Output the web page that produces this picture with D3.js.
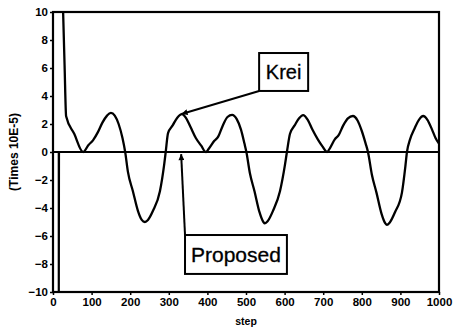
<!DOCTYPE html>
<html>
<head>
<meta charset="utf-8">
<script src="https://cdn.jsdelivr.net/npm/d3@7"></script>
<style>
  html, body { margin: 0; padding: 0; background: #fff; }
  svg { display: block; }
  text { font-family: "Liberation Sans", Arial, Helvetica, sans-serif; fill: #000; }
</style>
</head>
<body>
<svg id="chart" width="456" height="328"></svg>
<script>
// ---- data ----
const kreiSteps = [26, 30, 34, 55, 78, 92, 104, 116, 128, 140, 150, 160, 170, 180, 187,
  194, 207, 220, 230, 238, 246, 259, 277, 288, 292, 298, 310, 322, 334, 344, 356, 370, 384, 396,
  404, 418, 428, 440, 452, 464, 476, 487, 496, 501, 510, 522, 535, 545, 549, 556, 570, 588, 601,
  606, 614, 626, 637, 648, 660, 672, 686, 698, 710, 718, 730, 740, 752, 764, 777, 789, 800, 810,
  816, 826, 838, 851, 861, 865, 872, 886, 904, 913, 917, 925, 937, 948, 959, 970, 982, 991, 1000];
const kreiValues = [10.2, 6.2, 2.55, 1.3, 0, 0.5, 0.85, 1.4, 2.1, 2.6, 2.8, 2.6, 2.0, 1.0, 0,
  -1.4, -2.8, -4.2, -4.85, -5.0, -4.85, -4.2, -2.8, -0.9, 0, 1.35, 1.9, 2.45, 2.7, 2.45, 1.8, 1.0, 0.45, 0,
  0.25, 0.8, 1.1, 1.9, 2.5, 2.65, 2.35, 1.6, 0.6, 0, -1.5, -2.8, -4.3, -5.0, -5.1, -4.95, -4.2, -2.8, -0.9,
  0, 1.3, 1.9, 2.4, 2.64, 2.3, 1.6, 0.9, 0.4, 0, 0.3, 0.9, 1.2, 1.9, 2.4, 2.57, 2.25, 1.5, 0.6,
  0, -1.6, -2.9, -4.4, -5.1, -5.2, -5.05, -4.3, -2.9, -1.0, 0, 0.9, 1.7, 2.3, 2.57, 2.3, 1.6, 1.0, 0.6];

const proposedSteps = [0, 15, 15, 15.5, 1000];
const proposedValues = [0, 0, -10, 0, 0];

const xTicks = [0, 100, 200, 300, 400, 500, 600, 700, 800, 900, 1000];
const yTicks = [-10, -8, -6, -4, -2, 0, 2, 4, 6, 8, 10];
const xLabel = "step";
const yLabel = "(Times 10E-5)";

// ---- layout ----
const W = 456, H = 328;
const m = { left: 53, top: 12, right: 17, bottom: 36 };
const iw = W - m.left - m.right, ih = H - m.top - m.bottom;

const svg = d3.select("#chart");
const x = d3.scaleLinear().domain([0, 1000]).range([m.left, m.left + iw]);
const y = d3.scaleLinear().domain([-10, 10]).range([m.top + ih, m.top]);

svg.append("defs").append("clipPath").attr("id", "clip")
  .append("rect").attr("x", m.left).attr("y", m.top).attr("width", iw).attr("height", ih);

svg.append("defs").append("marker")
  .attr("id", "arrow").attr("viewBox", "0 0 10 10").attr("refX", 10).attr("refY", 5)
  .attr("markerWidth", 9).attr("markerHeight", 6).attr("markerUnits", "userSpaceOnUse")
  .attr("orient", "auto")
  .append("path").attr("d", "M0,0 L10,5 L0,10 Z").attr("fill", "#000");

// axes
const xAxis = d3.axisBottom(x).tickValues(xTicks).tickSize(3).tickPadding(3).tickFormat(d3.format("d"));
const yAxis = d3.axisLeft(y).tickValues(yTicks).tickSize(3).tickPadding(2).tickFormat(d3.format("d"));

const gx = svg.append("g").attr("transform", `translate(0,${m.top + ih})`).call(xAxis);
const gy = svg.append("g").attr("transform", `translate(${m.left},0)`).call(yAxis);
[gx, gy].forEach(g => {
  g.select(".domain").remove();
  g.selectAll(".tick line").attr("stroke", "#000").attr("stroke-width", 1.5);
  g.selectAll(".tick text").attr("font-size", 11.5).attr("font-weight", "bold")
    .attr("font-family", "'Liberation Sans', Arial, sans-serif");
});

// frame
svg.append("rect").attr("x", m.left).attr("y", m.top).attr("width", iw).attr("height", ih)
  .attr("fill", "none").attr("stroke", "#000").attr("stroke-width", 2.2);

// axis labels
svg.append("text").attr("x", x(500)).attr("y", 325).attr("text-anchor", "middle")
  .attr("font-size", 10.5).attr("font-weight", "bold").text(xLabel);
svg.append("text").attr("transform", `translate(18,${y(0)}) rotate(-90)`)
  .attr("text-anchor", "middle").attr("font-size", 12).attr("font-weight", "bold").text(yLabel);

// series
const plot = svg.append("g").attr("clip-path", "url(#clip)");

plot.append("path")
  .datum(proposedSteps.map((s, i) => [s, proposedValues[i]]))
  .attr("d", d3.line().x(d => x(d[0])).y(d => y(d[1])).curve(d3.curveLinear))
  .attr("fill", "none").attr("stroke", "#000").attr("stroke-width", 2.2);

plot.append("path")
  .datum(kreiSteps.map((s, i) => [s, kreiValues[i]]))
  .attr("d", d3.line().x(d => x(d[0])).y(d => y(d[1])).curve(d3.curveMonotoneX))
  .attr("fill", "none").attr("stroke", "#000").attr("stroke-width", 2.3).attr("stroke-linejoin", "round");

// annotations (data coordinates)
const notes = [
  { text: "Krei", x0: 534, x1: 661, yTop: 7.07, yBot: 4.36, from: [534, 4.36], to: [333, 2.72], size: 20 },
  { text: "Proposed", x0: 342, x1: 606, yTop: -5.93, yBot: -8.71, from: [342, -5.93], to: [332, -0.15], size: 21 }
];
notes.forEach(n => {
  svg.append("line")
    .attr("x1", x(n.from[0])).attr("y1", y(n.from[1]))
    .attr("x2", x(n.to[0])).attr("y2", y(n.to[1]))
    .attr("stroke", "#000").attr("stroke-width", 2).attr("marker-end", "url(#arrow)");
  svg.append("rect").attr("x", x(n.x0)).attr("y", y(n.yTop))
    .attr("width", x(n.x1) - x(n.x0)).attr("height", y(n.yBot) - y(n.yTop))
    .attr("fill", "#fff").attr("stroke", "#000").attr("stroke-width", 2);
  svg.append("text").attr("x", (x(n.x0) + x(n.x1)) / 2).attr("y", (y(n.yTop) + y(n.yBot)) / 2)
    .attr("dy", "0.36em").attr("text-anchor", "middle").attr("font-size", n.size)
    .attr("stroke", "#000").attr("stroke-width", 0.3).text(n.text);
});
</script>
</body>
</html>
